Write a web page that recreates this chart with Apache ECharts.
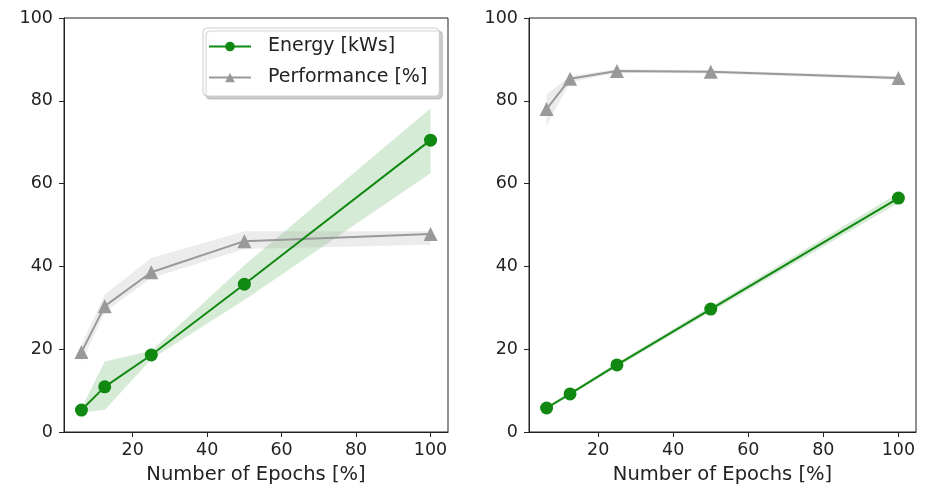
<!DOCTYPE html>
<html><head><meta charset="utf-8">
<script src="https://cdn.jsdelivr.net/npm/echarts@6/dist/echarts.min.js"></script>
<style>html,body{margin:0;padding:0;background:#fff}#c{width:930px;height:492px}</style>
</head><body><div id="c"></div>
<script>
const epochs = [6.25, 12.5, 25, 50, 100];
const xTicks = [20, 40, 60, 80, 100];
const leftEnergy   = [5.3, 10.9, 18.6, 35.7, 70.5];
const leftEnergyLo = [4.8, 5.3, 17.6, 31.9, 62.5];
const leftEnergyHi = [5.8, 17.0, 19.6, 40.3, 78.2];
const leftPerf     = [19.3, 30.4, 38.6, 46.1, 47.8];
const leftPerfLo   = [16.8, 29.0, 37.2, 44.2, 45.2];
const leftPerfHi   = [21.0, 33.2, 42.0, 48.5, 48.5];
const rightEnergy   = [5.8, 9.2, 16.2, 29.7, 56.5];
const rightEnergyLo = [5.4, 8.8, 15.7, 29.0, 55.3];
const rightEnergyHi = [6.2, 9.6, 16.7, 30.4, 57.7];
const rightPerf     = [78.0, 85.3, 87.2, 87.0, 85.5];
const rightPerfLo   = [74.0, 84.5, 86.8, 86.6, 85.1];
const rightPerfHi   = [81.5, 86.0, 87.6, 87.4, 85.9];

const GREEN = '#118811', GREY = '#999999';
const FONT = 'DejaVu Sans';
const TICK_FS = 17.5, NAME_FS = 19.5, LEG_FS = 19;

function band(idx, lo, hi, color) {
  return {
    type: 'custom', xAxisIndex: idx, yAxisIndex: idx, silent: true, z: 1,
    data: epochs.map((x, i) => [x, lo[i], hi[i]]),
    encode: { x: 0, y: [1, 2] },
    renderItem: function (params, api) {
      if (params.dataIndex !== 0) return null;
      const n = params.dataInsideLength;
      const up = [], dn = [];
      for (let i = 0; i < n; i++) {
        up.push(api.coord([api.value(0, i), api.value(2, i)]));
        dn.unshift(api.coord([api.value(0, i), api.value(1, i)]));
      }
      return { type: 'polygon', shape: { points: up.concat(dn) }, style: { fill: color } };
    }
  };
}
function line(idx, name, vals, color, symbol, z) {
  return {
    type: 'line', name: name, xAxisIndex: idx, yAxisIndex: idx, z: z,
    data: epochs.map((x, i) => [x, vals[i]]),
    symbol: symbol, symbolSize: symbol === 'circle' ? 13 : 14,
    lineStyle: { color: color, width: 2 },
    itemStyle: { color: color },
    emphasis: { disabled: true }, animation: false
  };
}
function xAxis(idx) {
  return {
    type: 'value', gridIndex: idx, min: 1.5625, max: 104.6875,
    name: 'Number of Epochs [%]', nameLocation: 'middle', nameGap: 33,
    nameTextStyle: { fontFamily: FONT, fontSize: NAME_FS, color: '#222' },
    axisLine: { lineStyle: { color: '#222' } },
    axisTick: { show: true, length: 5, lineStyle: { color: '#222' }, customValues: xTicks },
    axisLabel: { fontFamily: FONT, fontSize: TICK_FS, color: '#222', margin: 9, customValues: xTicks },
    splitLine: { show: false }
  };
}
function yAxis(idx) {
  return {
    type: 'value', gridIndex: idx, min: 0, max: 100, interval: 20,
    axisLine: { show: true, lineStyle: { color: '#222' } },
    axisTick: { show: true, length: 5, lineStyle: { color: '#222' } },
    axisLabel: { fontFamily: FONT, fontSize: TICK_FS, color: '#222', margin: 11 },
    splitLine: { show: false }
  };
}
const chart = echarts.init(document.getElementById('c'));
chart.setOption({
  animation: false,
  grid: [
    { left: 64, top: 18, width: 384, height: 414, show: true, borderColor: '#222', borderWidth: 1, backgroundColor: 'transparent' },
    { left: 529, top: 18, width: 387, height: 414, show: true, borderColor: '#222', borderWidth: 1, backgroundColor: 'transparent' }
  ],
  xAxis: [xAxis(0), xAxis(1)],
  yAxis: [yAxis(0), yAxis(1)],
  legend: {
    data: ['Energy [kWs]', 'Performance [%]'], orient: 'vertical',
    left: 203, top: 28, itemWidth: 42, itemHeight: 12, itemGap: 12,
    padding: [9, 12, 9, 5], backgroundColor: '#fff', borderColor: '#cccccc', borderWidth: 1, borderRadius: 4,
    shadowColor: 'rgba(0,0,0,0.2)', shadowOffsetX: 3, shadowOffsetY: 3, shadowBlur: 1,
    textStyle: { fontFamily: FONT, fontSize: LEG_FS, color: '#222', padding: [0, 0, 0, 12] }
  },
  series: [
    band(0, leftEnergyLo, leftEnergyHi, 'rgba(0,128,0,0.16)'),
    line(0, 'Energy [kWs]', leftEnergy, GREEN, 'circle', 3),
    band(0, leftPerfLo, leftPerfHi, 'rgba(128,128,128,0.15)'),
    line(0, 'Performance [%]', leftPerf, GREY, 'triangle', 2),
    band(1, rightEnergyLo, rightEnergyHi, 'rgba(0,128,0,0.16)'),
    line(1, 'Energy [kWs]', rightEnergy, GREEN, 'circle', 3),
    band(1, rightPerfLo, rightPerfHi, 'rgba(128,128,128,0.15)'),
    line(1, 'Performance [%]', rightPerf, GREY, 'triangle', 2)
  ]
});
</script></body></html>
